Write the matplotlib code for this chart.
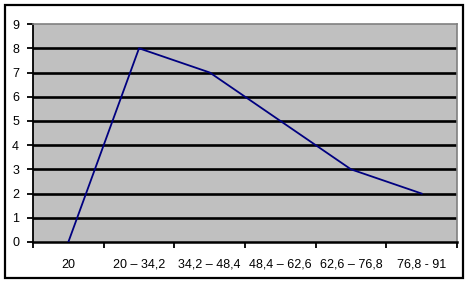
import matplotlib.pyplot as plt
from matplotlib.patches import Rectangle

categories = ["20", "20 – 34,2", "34,2 – 48,4", "48,4 – 62,6", "62,6 – 76,8", "76,8 - 91"]
values = [0, 8, 7, 5, 3, 2]
y_ticks = list(range(0, 10))

plt.rcParams["font.family"] = ["Liberation Sans", "DejaVu Sans"]

fig = plt.figure(figsize=(4.67, 2.83), dpi=100)
fig.patch.set_facecolor("white")
ax = fig.add_axes([0.0707, 0.1449, 0.908, 0.770])
ax.set_facecolor("#c0c0c0")

x = [i + 0.5 for i in range(len(categories))]
ax.plot(x, values, color="#000080", linewidth=1.3, zorder=3)

ax.set_xlim(0, len(categories))
ax.set_ylim(0, 9)
ax.set_yticks(y_ticks)
ax.set_yticklabels([str(v) for v in y_ticks], fontsize=9)
for v in y_ticks[1:-1]:
    ax.axhline(v, color="black", linewidth=1.9, zorder=2)

ax.set_xticks(range(len(categories) + 1))
ax.set_xticklabels([])
ax.set_xticks(x, minor=True)
ax.set_xticklabels(categories, minor=True, fontsize=9)
ax.tick_params(axis="x", which="minor", length=0, pad=12)
ax.tick_params(axis="x", which="major", direction="out", length=4, width=1.3, color="black")
ax.tick_params(axis="y", direction="out", length=4, width=1.3, color="black", pad=6)

for side in ("top", "right"):
    ax.spines[side].set_color("#808080")
    ax.spines[side].set_linewidth(1.2)
ax.spines["left"].set_color("black")
ax.spines["left"].set_linewidth(1.3)
ax.spines["bottom"].set_color("black")
ax.spines["bottom"].set_linewidth(1.8)

fig.patches.append(Rectangle((5 / 467, 5 / 283), 458 / 467, 273 / 283,
                             transform=fig.transFigure, fill=False,
                             edgecolor="black", linewidth=1.6))

fig.savefig("out.png", dpi=100)
